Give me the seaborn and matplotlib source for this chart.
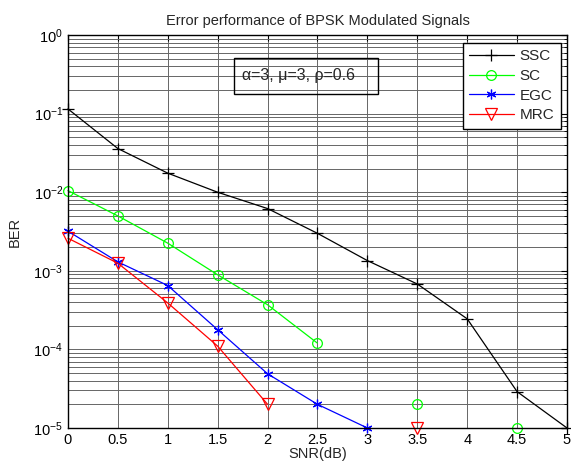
import numpy as np
import pandas as pd
import matplotlib
matplotlib.use("Agg")
import matplotlib.pyplot as plt
import matplotlib.ticker as mticker
from matplotlib.patches import Rectangle
import seaborn as sns

nan = np.nan

# SNR points (dB)
snr = [0, 0.5, 1, 1.5, 2, 2.5, 3, 3.5, 4, 4.5, 5]

# BER per combining scheme (NaN = no error counted -> gap in the curve)
ber_ssc = [1.15e-1, 3.6e-2, 1.75e-2, 1.0e-2, 6.2e-3, 3.0e-3, 1.35e-3, 6.8e-4, 2.45e-4, 2.9e-5, 1.0e-5]
ber_sc = [1.05e-2, 5.0e-3, 2.25e-3, 8.9e-4, 3.7e-4, 1.2e-4, nan, 2.0e-5, nan, 1.0e-5, nan]
ber_egc = [3.2e-3, 1.3e-3, 6.5e-4, 1.78e-4, 4.9e-5, 2.0e-5, 1.0e-5, nan, nan, nan, nan]
ber_mrc = [2.6e-3, 1.25e-3, 3.9e-4, 1.1e-4, 2.0e-5, nan, nan, 1.0e-5, nan, nan, nan]

schemes = ["SSC", "SC", "EGC", "MRC"]
series = [ber_ssc, ber_sc, ber_egc, ber_mrc]
colors = ["black", "#00ff00", "blue", "red"]
markers = ["+", "o", (6, 2, 0), "v"]
msizes = [8, 7, 7, 8]
hollow = [False, True, False, True]

sns.set_style("white")
plt.rcParams["font.family"] = ["Liberation Sans", "DejaVu Sans"]
plt.rcParams["mathtext.fontset"] = "custom"
plt.rcParams["mathtext.rm"] = "Liberation Sans"
plt.rcParams["mathtext.it"] = "Liberation Sans:italic"

fig = plt.figure(figsize=(5.71, 4.68), dpi=100)
ax = fig.add_axes([0.119, 0.0855, 0.874, 0.8395])

for name, y, c, m, ms, h in zip(schemes, series, colors, markers, msizes, hollow):
    d = pd.DataFrame({"snr": snr, "ber": y})
    # break the line where values are missing
    d["seg"] = d["ber"].isna().cumsum()
    d = d.dropna()
    sns.lineplot(data=d, x="snr", y="ber", units="seg", estimator=None, sort=False,
                 color=c, marker=m, markersize=ms, markeredgecolor=c,
                 markerfacecolor="none" if h else c, markeredgewidth=0.9,
                 linewidth=0.9, label=name, clip_on=False, ax=ax)

ax.set_yscale("log")
ax.set_xlim(0, 5)
ax.set_ylim(1e-5, 1)
ax.xaxis.set_major_locator(mticker.MultipleLocator(0.5))
ax.xaxis.set_major_formatter(mticker.FormatStrFormatter("%g"))
ax.yaxis.set_major_locator(mticker.LogLocator(base=10, numticks=10))
ax.yaxis.set_minor_locator(mticker.LogLocator(base=10, subs=np.arange(2, 10), numticks=20))
ax.yaxis.set_minor_formatter(mticker.NullFormatter())

ax.grid(True, which="major", color="0.4", linewidth=0.7)
ax.grid(True, which="minor", axis="y", color="0.4", linewidth=0.7)
ax.set_axisbelow(True)

ax.tick_params(which="both", direction="in", top=True, right=True, labelsize=10.5, colors="black")
ax.tick_params(which="major", length=4)
ax.tick_params(which="minor", length=2.5)
for s in ax.spines.values():
    s.set_color("black")
    s.set_linewidth(1)

ax.set_title("Error performance of BPSK Modulated Signals", fontsize=10.5, pad=7)
ax.set_xlabel("SNR(dB)", fontsize=10.5, labelpad=0)
ax.set_ylabel("BER", fontsize=10.5, labelpad=8)

# parameter box
ax.add_patch(Rectangle((0.333, 0.850), 0.289, 0.091, transform=ax.transAxes,
                       fill=False, edgecolor="black", linewidth=1, zorder=5))
ax.text(0.349, 0.896, "α=3, μ=3, ρ=0.6", transform=ax.transAxes, fontsize=11.5,
        va="center", ha="left", zorder=6)

# legend, one entry per scheme
handles, labels = ax.get_legend_handles_labels()
uniq = dict(zip(labels, handles))
leg = ax.legend([uniq[n] for n in schemes], schemes, loc="upper right",
                bbox_to_anchor=(0.987, 0.980), fontsize=11, frameon=True,
                fancybox=False, edgecolor="black", framealpha=1,
                handlelength=2.9, handletextpad=0.4, labelspacing=0.38,
                borderpad=0.4, borderaxespad=0)
leg.get_frame().set_linewidth(1)

fig.savefig("out.png", dpi=100)
